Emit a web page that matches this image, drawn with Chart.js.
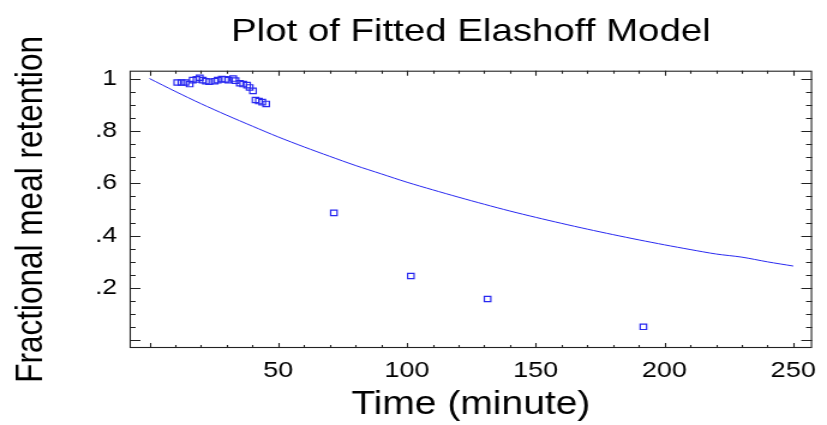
<!DOCTYPE html>
<html>
<head>
<meta charset="utf-8">
<script src="https://cdn.jsdelivr.net/npm/chart.js@4.4.1/dist/chart.umd.min.js"></script>
<style>
  html, body { margin: 0; padding: 0; background: #fff; overflow: hidden; }
  /* the reference picture is stretched sideways; draw narrow and widen it */
  #wrap { width: 689px; height: 425px; transform: scaleX(1.2003); transform-origin: 0 0; }
</style>
</head>
<body>
<div id="wrap"><canvas id="chart" width="689" height="425"></canvas></div>
<script>
// observed points (minutes, fraction retained)
const obsTime = [10.8, 12.4, 14.0, 15.6, 16.8, 18.3, 19.5, 20.7, 21.9, 23.2, 25.3, 26.5, 28.1, 29.4, 30.6, 32.5, 33.4, 35.1, 36.4, 37.9, 38.9, 40.2, 41.2, 42.5, 43.8, 45.3, 71.6, 101.5, 131.3, 191.8];
const obsRetention = [0.985, 0.985, 0.985, 0.979, 0.994, 0.997, 1.003, 0.994, 0.990, 0.988, 0.990, 0.994, 0.998, 0.997, 0.994, 1.000, 0.992, 0.982, 0.979, 0.975, 0.966, 0.953, 0.918, 0.914, 0.910, 0.903, 0.487, 0.246, 0.158, 0.052];

// fitted curve
const fitTime = [0, 10, 20, 30, 40, 50, 60, 70, 80, 90, 100, 110, 120, 130, 140, 150, 160, 170, 180, 190, 200, 210, 220, 230, 240, 250];
const fitRetention = [1.0, 0.951, 0.904, 0.860, 0.818, 0.777, 0.739, 0.703, 0.668, 0.636, 0.604, 0.575, 0.547, 0.520, 0.494, 0.470, 0.447, 0.425, 0.404, 0.384, 0.365, 0.347, 0.330, 0.318, 0.300, 0.284];

const xTickLabels = [50, 100, 150, 200, 250];
const yTickLabels = [0.2, 0.4, 0.6, 0.8, 1];

const blue = 'rgb(40, 40, 240)';
const font = "'Liberation Sans', Arial, sans-serif";

// inward ticks on all four sides plus the frame
const frameTicks = {
    id: 'frameTicks',
    afterDatasetsDraw(chart) {
        const { ctx, chartArea: a, scales: { x, y } } = chart;
        ctx.save();
        ctx.strokeStyle = '#222';
        ctx.lineWidth = 1.1;
        ctx.strokeRect(a.left + 0.5, a.top + 0.5, a.right - a.left - 1, a.bottom - a.top - 1);
        ctx.beginPath();
        x.ticks.forEach(t => {
            const px = Math.round(x.getPixelForValue(t.value)) + 0.5;
            const len = t.value % 50 === 0 ? 5 : 3;
            ctx.moveTo(px, a.bottom); ctx.lineTo(px, a.bottom - len);
            ctx.moveTo(px, a.top); ctx.lineTo(px, a.top + len);
        });
        y.ticks.forEach(t => {
            const py = Math.round(y.getPixelForValue(t.value)) + 0.5;
            const len = Math.round(t.value * 100) % 20 === 0 ? 9 : 5;
            ctx.moveTo(a.left, py); ctx.lineTo(a.left + len, py);
            ctx.moveTo(a.right, py); ctx.lineTo(a.right - len, py);
        });
        ctx.stroke();
        ctx.restore();
    }
};

new Chart(document.getElementById('chart'), {
    type: 'scatter',
    data: {
        datasets: [
            {
                label: 'Observed',
                data: obsTime.map((t, i) => ({ x: t, y: obsRetention[i] })),
                pointStyle: 'rect',
                pointRadius: 3.8,
                backgroundColor: 'rgba(0,0,0,0)',
                borderColor: blue,
                borderWidth: 1.2,
                showLine: false
            },
            {
                label: 'Fitted',
                data: fitTime.map((t, i) => ({ x: t, y: fitRetention[i] })),
                showLine: true,
                borderColor: blue,
                borderWidth: 1,
                pointRadius: 0,
                tension: 0.3
            }
        ]
    },
    options: {
        responsive: false,
        animation: false,
        layout: { padding: { left: 0, right: 4, top: 0, bottom: 0 } },
        plugins: {
            legend: { display: false },
            tooltip: { enabled: false },
            title: {
                display: true,
                fullSize: false,
                text: 'Plot of Fitted Elashoff Model',
                color: '#000',
                font: { family: font, size: 32, weight: 'normal' },
                padding: { top: 12.8, bottom: 19.5 }
            }
        },
        scales: {
            x: {
                type: 'linear',
                min: -7.7,
                max: 257.3,
                afterFit: s => { s.height = 77; },
                grid: { display: false, drawTicks: false },
                border: { display: false },
                ticks: {
                    stepSize: 10,
                    includeBounds: false,
                    autoSkip: false,
                    maxRotation: 0,
                    padding: 9,
                    color: '#000',
                    font: { family: font, size: 22.5 },
                    callback: v => xTickLabels.includes(v) ? String(v) : ''
                },
                title: {
                    display: true,
                    text: 'Time (minute)',
                    color: '#000',
                    font: { family: font, size: 32.5 },
                    padding: { top: 0, bottom: 0 }
                }
            },
            y: {
                type: 'linear',
                min: -0.029,
                max: 1.03,
                afterFit: s => { s.width = 108; },
                grid: { display: false, drawTicks: false },
                border: { display: false },
                ticks: {
                    stepSize: 0.05,
                    includeBounds: false,
                    autoSkip: false,
                    padding: 10.5,
                    color: '#000',
                    font: { family: font, size: 22 },
                    callback: v => {
                        const r = Math.round(v * 100) / 100;
                        if (!yTickLabels.includes(r)) return '';
                        return r === 1 ? '1' : String(r).replace(/^0/, '');
                    }
                },
                title: {
                    display: true,
                    text: 'Fractional meal retention',
                    color: '#000',
                    font: { family: font, size: 31.5 },
                    padding: { top: 7, bottom: 0 }
                }
            }
        }
    },
    plugins: [frameTicks]
});
</script>
</body>
</html>
